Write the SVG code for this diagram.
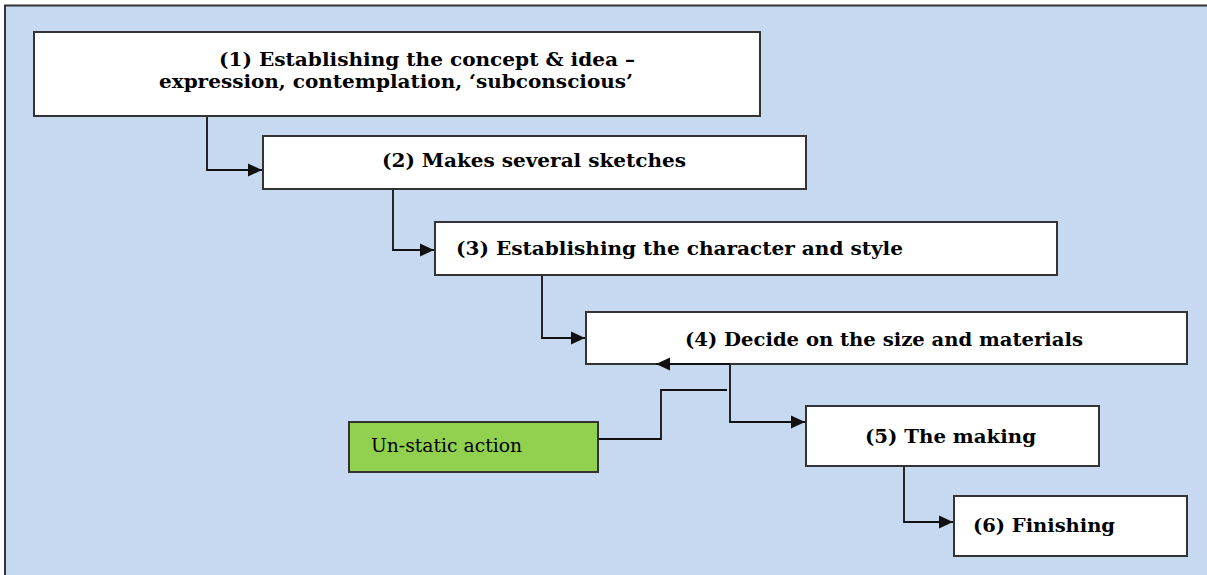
<svg xmlns="http://www.w3.org/2000/svg" width="1207" height="575" viewBox="0 0 1207 575">
<style>
.box{fill:#ffffff;stroke:#333333;stroke-width:2}
.green{fill:#92D050;stroke:#333333;stroke-width:2}
.t{font-family:"DejaVu Serif","Liberation Serif",serif;font-weight:bold;font-size:19px;fill:#000}
.tn{font-family:"DejaVu Serif","Liberation Serif",serif;font-size:19px;fill:#000}
.c{fill:none;stroke:#111111;stroke-width:1.8}
</style>
<defs>
<marker id="arr" markerUnits="userSpaceOnUse" markerWidth="16" markerHeight="14" refX="14" refY="7" orient="auto">
<path d="M0,0.5 L14,7 L0,13.5 Z" fill="#111111"/>
</marker>
</defs>
<rect x="0" y="0" width="1207" height="575" fill="#ffffff"/>
<rect x="5" y="5.5" width="1215" height="590" fill="#C6D9F0" stroke="#333333" stroke-width="2"/>
<g id="node1">
<rect class="box" x="34" y="32" width="726" height="84"/>
<text class="t" x="219" y="66" textLength="416" lengthAdjust="spacingAndGlyphs">(1)  Establishing  the concept &amp; idea –</text>
<text class="t" x="159" y="88" textLength="474" lengthAdjust="spacingAndGlyphs">expression, contemplation,  ‘subconscious’</text>
</g>
<g id="node2">
<rect class="box" x="263" y="136" width="543" height="53"/>
<text class="t" x="382" y="167" textLength="304" lengthAdjust="spacingAndGlyphs">(2) Makes several sketches</text>
</g>
<g id="node3">
<rect class="box" x="435" y="222" width="622" height="53"/>
<text class="t" x="456" y="255" textLength="447" lengthAdjust="spacingAndGlyphs">(3) Establishing  the character and style</text>
</g>
<g id="node4">
<rect class="box" x="586" y="312" width="601" height="52"/>
<text class="t" x="685" y="346" textLength="398" lengthAdjust="spacingAndGlyphs">(4) Decide on the size and materials</text>
</g>
<g id="node5">
<rect class="box" x="806" y="406" width="293" height="60"/>
<text class="t" x="865" y="443" textLength="171" lengthAdjust="spacingAndGlyphs">(5) The making</text>
</g>
<g id="node6">
<rect class="box" x="954" y="496" width="233" height="60"/>
<text class="t" x="973" y="532" textLength="142" lengthAdjust="spacingAndGlyphs">(6) Finishing</text>
</g>
<g id="unstatic">
<rect class="green" x="349" y="422" width="249" height="50"/>
<text class="tn" x="371" y="452" textLength="151" lengthAdjust="spacingAndGlyphs">Un-static action</text>
</g>
<g id="connectors">
<path class="c" d="M207,117 V170 H262" marker-end="url(#arr)"/>
<path class="c" d="M393,190 V250 H434" marker-end="url(#arr)"/>
<path class="c" d="M542,276 V338 H585" marker-end="url(#arr)"/>
<path class="c" d="M730,365 V422 H805" marker-end="url(#arr)"/>
<path class="c" d="M904,467 V522 H953" marker-end="url(#arr)"/>
<path class="c" d="M730,364 H656" marker-end="url(#arr)"/>
<path class="c" d="M599,439 H661 V390 H727"/>
</g>
</svg>
